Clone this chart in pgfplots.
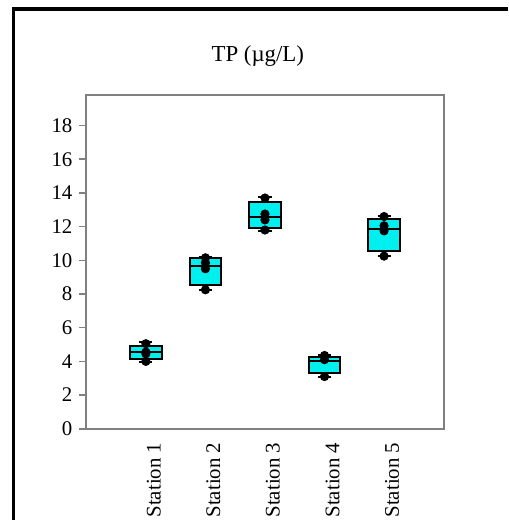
\documentclass[border=0pt]{standalone}
\usepackage{fontspec}
\setmainfont{Liberation Serif}
\usepackage{pgfplots}
\usepgfplotslibrary{statistics}
\pgfplotsset{compat=1.18}
\definecolor{boxcyan}{RGB}{0,240,240}
\definecolor{axgray}{RGB}{128,128,128}

\begin{document}
\begin{tikzpicture}
\pgfplotsset{every axis title/.style={at={(0.48,1)},anchor=south,yshift=11pt}}
\begin{axis}[
  scale only axis,
  width=180pt, height=168pt,
  xmin=0, xmax=6,
  ymin=0, ymax=19.8,
  ytick={0,2,...,18},
  xtick={1,2,3,4,5},
  xticklabels={Station 1,Station 2,Station 3,Station 4,Station 5},
  axis line style={axgray,line width=1pt},
  ytick style={axgray,line width=0.8pt},
  xtick style={draw=none},
  tick align=outside,
  major tick length=3.5pt,
  ytick pos=left,
  xtick pos=bottom,
  /pgf/number format/assume math mode=true,
  tick label style={font=\fontsize{10.5}{12}\selectfont},
  xticklabel style={rotate=90,anchor=east,yshift=-4pt},
  title={TP (µg/L)},
  title style={font=\fontsize{11.5}{13}\selectfont},
  boxplot/draw direction=y,
  boxplot/box extend=0.53,
  boxplot/whisker extend=0.22,
]
\addplot[black,line width=1pt,fill=boxcyan,boxplot prepared={draw position=1,
  lower whisker=3.95,lower quartile=4.15,median=4.55,upper quartile=4.94,upper whisker=5.13}]
  coordinates {};
\addplot[black,line width=1pt,fill=boxcyan,boxplot prepared={draw position=2,
  lower whisker=8.25,lower quartile=8.52,median=9.66,upper quartile=10.11,upper whisker=10.2}]
  coordinates {};
\addplot[black,line width=1pt,fill=boxcyan,boxplot prepared={draw position=3,
  lower whisker=11.77,lower quartile=11.92,median=12.56,upper quartile=13.44,upper whisker=13.74}]
  coordinates {};
\addplot[black,line width=1pt,fill=boxcyan,boxplot prepared={draw position=4,
  lower whisker=3.07,lower quartile=3.31,median=4.05,upper quartile=4.25,upper whisker=4.35}]
  coordinates {};
\addplot[black,line width=1pt,fill=boxcyan,boxplot prepared={draw position=5,
  lower whisker=10.25,lower quartile=10.55,median=11.87,upper quartile=12.46,upper whisker=12.61}]
  coordinates {};
% individual samples
\addplot[only marks,mark=*,mark size=2.1pt,black] coordinates {
  (1,5.05) (1,4.55) (1,4.45) (1,4.0)
  (2,10.15) (2,9.85) (2,9.5) (2,8.25)
  (3,13.7) (3,12.75) (3,12.4) (3,11.8)
  (4,4.35) (4,4.1) (4,3.1)
  (5,12.6) (5,12.05) (5,11.75) (5,10.25)
};
\end{axis}
\path[use as bounding box] (-43.5pt,-46pt) rectangle (212.5pt,216pt);
\draw[black,line width=1.6pt] (-36.5pt,-46pt) -- (-36.5pt,211.5pt) -- (212.5pt,211.5pt);
\end{tikzpicture}
\end{document}
